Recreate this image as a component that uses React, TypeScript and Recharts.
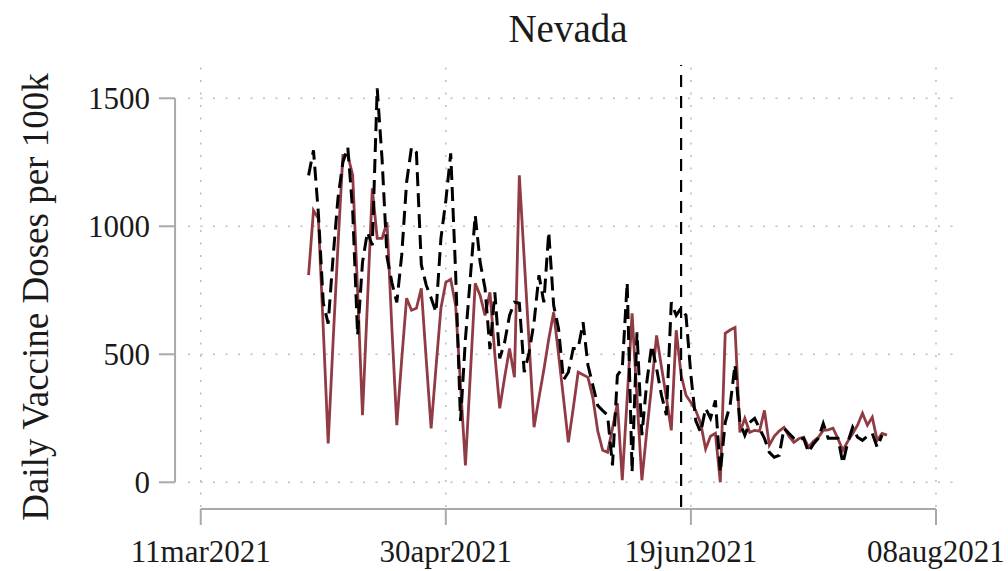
import React from 'react';
import { LineChart, Line, XAxis, YAxis, ReferenceLine } from 'recharts';

// Day offsets are counted from 11mar2021 (day 0).
const START_DAY = 22; // first observation: 02apr2021

// Nevada daily doses per 100k (solid red)
const nevadaDoses = [
  809, 1062, 1030, 600, 152, 550, 926, 1277, 1277, 1200,
  750, 262, 700, 1148, 953, 953, 1016, 600, 223, 480,
  719, 672, 680, 758, 480, 211, 450, 680, 781, 793,
  691, 380, 66, 420, 777, 730, 652, 742, 500, 289,
  410, 523, 410, 1199, 871, 543, 215, 330, 440, 560,
  664, 500, 330, 156, 290, 430, 420, 410, 330, 200,
  125, 117, 210, 309, 8, 330, 660, 330, 8, 200,
  380, 574, 450, 330, 203, 594, 420, 340, 312, 280,
  230, 130, 180, 191, 0, 582, 595, 605, 195, 250,
  195, 203, 200, 281, 145, 180, 200, 215, 180, 156,
  170, 176, 137, 160, 176, 203, 205, 211, 170, 125,
  160, 191, 223, 270, 223, 254, 164, 191, 184,
];

// Comparison series (black dashed)
const comparisonDoses = [
  1199, 1297, 1050, 700, 620, 880, 1110, 1250, 1309, 1060,
  574, 859, 977, 926, 1539, 1260, 880, 780, 703, 887,
  1172, 1309, 1289, 850, 770, 720, 664, 953, 1100, 1285,
  820, 240, 560, 800, 1043, 859, 758, 520, 742, 484,
  547, 652, 703, 699, 430, 508, 625, 809, 703, 977,
  691, 600, 400, 430, 523, 523, 625, 457, 379, 300,
  280, 262, 66, 418, 445, 780, 40, 586, 184, 391,
  535, 445, 340, 262, 703, 652, 680, 652, 418, 240,
  195, 289, 250, 320, 40, 234, 301, 460, 234, 184,
  234, 250, 210, 172, 117, 98, 105, 211, 191, 172,
  165, 172, 117, 150, 172, 230, 172, 172, 172, 74,
  156, 215, 176, 164, 180, 191, 137, 184,
];

const xTickDays = [0, 50, 100, 150];
const xTickLabels = ['11mar2021', '30apr2021', '19jun2021', '08aug2021'];
const yTicks = [0, 500, 1000, 1500];
const policyDay = 98; // 17jun2021

const chartData = nevadaDoses.map((v, i) => ({
  day: START_DAY + i,
  nevada: v,
  comparison: i < comparisonDoses.length ? comparisonDoses[i] : null,
}));

const FONT = "'Liberation Serif', 'Times New Roman', serif";
const AXIS_GRAY = '#a9a9a9';
const GRID_GRAY = '#bdbdbd';

const XTick = (props: any) => {
  const { x, y, payload } = props;
  const idx = xTickDays.indexOf(payload.value);
  return (
    <g>
      <line x1={x} x2={x} y1={y + 2} y2={y + 18} stroke={AXIS_GRAY} strokeWidth={2} />
      <text x={x} y={y + 55} textAnchor="middle" fontSize={31} fontFamily={FONT} fill="#1a1a1a">
        {idx >= 0 ? xTickLabels[idx] : ''}
      </text>
    </g>
  );
};

const YTick = (props: any) => {
  const { x, y, payload } = props;
  return (
    <g>
      <line x1={x - 29} x2={x - 13} y1={y} y2={y} stroke={AXIS_GRAY} strokeWidth={2} />
      <text x={x - 38} y={y} dy="0.35em" textAnchor="end" fontSize={31} fontFamily={FONT} fill="#1a1a1a">
        {payload.value}
      </text>
    </g>
  );
};

export default function App() {
  return (
    <div style={{ position: 'absolute', left: 0, top: 0, width: 1008, height: 571, background: '#fff' }}>
      <LineChart
        width={1008}
        height={571}
        data={chartData}
        margin={{ top: 65, right: 48, bottom: 0, left: 0 }}
      >
        <XAxis
          dataKey="day"
          type="number"
          domain={[-2.6, 154.9]}
          ticks={xTickDays}
          interval={0}
          allowDataOverflow
          height={64}
          axisLine={false}
          tickLine={false}
          tickSize={0}
          tickMargin={0}
          tick={<XTick />}
        />
        <YAxis
          type="number"
          domain={[-96.5, 1630]}
          ticks={yTicks}
          interval={0}
          allowDataOverflow
          width={188}
          axisLine={false}
          tickLine={false}
          tickSize={0}
          tickMargin={0}
          tick={<YTick />}
        />
        {yTicks.map((t) => (
          <ReferenceLine
            key={`gy${t}`}
            y={t}
            stroke={GRID_GRAY}
            strokeWidth={1.5}
            strokeDasharray="2 10.5"
          />
        ))}
        {xTickDays.map((t) => (
          <ReferenceLine
            key={`gx${t}`}
            x={t}
            stroke={GRID_GRAY}
            strokeWidth={1.5}
            strokeDasharray="2 10.5"
          />
        ))}
        <ReferenceLine
          segment={[{ x: -5.24, y: 0 }, { x: -5.24, y: 1500 }]}
          ifOverflow="visible"
          stroke={AXIS_GRAY}
          strokeWidth={2}
        />
        <ReferenceLine
          segment={[{ x: 0, y: -104 }, { x: 150, y: -104 }]}
          ifOverflow="visible"
          stroke={AXIS_GRAY}
          strokeWidth={2}
        />
        <Line
          type="linear"
          dataKey="nevada"
          stroke="#913b45"
          strokeWidth={2.8}
          dot={false}
          activeDot={false}
          isAnimationActive={false}
        />
        <Line
          type="linear"
          dataKey="comparison"
          stroke="#000000"
          strokeWidth={3}
          strokeDasharray="14 7"
          dot={false}
          activeDot={false}
          isAnimationActive={false}
        />
        <ReferenceLine x={policyDay} stroke="#000" strokeWidth={2.2} strokeDasharray="12 9" />
      </LineChart>
      <svg
        width={1008}
        height={571}
        style={{ position: 'absolute', left: 0, top: 0, pointerEvents: 'none' }}
      >
        <text x={568} y={42} textAnchor="middle" fontSize={39} fontFamily={FONT} fill="#1a1a1a">
          Nevada
        </text>
        <text
          x={48}
          y={297}
          transform="rotate(-90 48 297)"
          textAnchor="middle"
          fontSize={37}
          fontFamily={FONT}
          fill="#1a1a1a"
        >
          Daily Vaccine Doses per 100k
        </text>
      </svg>
    </div>
  );
}
